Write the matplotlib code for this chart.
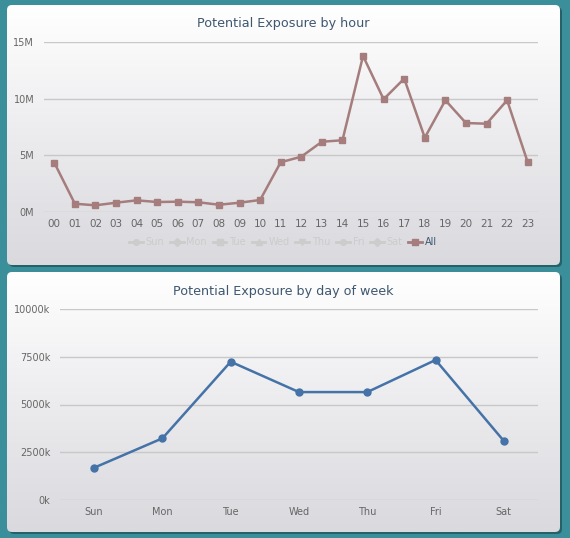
import matplotlib
matplotlib.use("Agg")
import matplotlib.pyplot as plt
import numpy as np
from matplotlib.patches import FancyBboxPatch
from matplotlib.lines import Line2D
from matplotlib.colors import LinearSegmentedColormap
from matplotlib.ticker import FuncFormatter

# ---- data ----
hours = ["00", "01", "02", "03", "04", "05", "06", "07", "08", "09", "10", "11",
         "12", "13", "14", "15", "16", "17", "18", "19", "20", "21", "22", "23"]
hour_all_m = [4.35, 0.73, 0.59, 0.82, 1.03, 0.88, 0.91, 0.86, 0.64, 0.82, 1.06, 4.39,
              4.88, 6.20, 6.33, 13.77, 9.95, 11.77, 6.56, 9.86, 7.85, 7.79, 9.86, 4.39]
hour_ticks = [0, 5, 10, 15]

days = ["Sun", "Mon", "Tue", "Wed", "Thu", "Fri", "Sat"]
day_vals_k = [1690, 3230, 7240, 5650, 5650, 7330, 3090]
day_ticks = [0, 2500, 5000, 7500, 10000]

legend_names = ["Sun", "Mon", "Tue", "Wed", "Thu", "Fri", "Sat", "All"]
legend_marks = ["o", "D", "s", "^", "v", "o", "D", "s"]

W, H = 570, 538
TEAL = "#3B8F9A"
TITLE_C = "#3E576F"
LABEL_C = "#666666"
GRID_C = "#C8C8C8"
C_ALL = "#A47D7C"
C_DAY = "#4572A7"

fig = plt.figure(figsize=(W / 100, H / 100), dpi=100, facecolor=TEAL)

# background layer in pixel coords (y measured from top)
bg = fig.add_axes([0, 0, 1, 1])
bg.set_xlim(0, W); bg.set_ylim(H, 0); bg.axis("off")
grad = LinearSegmentedColormap.from_list("g", ["#FFFFFF", "#D9D9DE"])
gimg = np.linspace(0, 1, 256).reshape(-1, 1)

def panel(x0, y0, x1, y1):
    sh = FancyBboxPatch((x0 + 2, y0 + 2), x1 - x0, y1 - y0,
                        boxstyle="round,pad=0,rounding_size=5",
                        facecolor="#1D4E55", edgecolor="none", alpha=0.7, zorder=1)
    bg.add_patch(sh)
    p = FancyBboxPatch((x0, y0), x1 - x0, y1 - y0,
                       boxstyle="round,pad=0,rounding_size=5",
                       facecolor="none", edgecolor="none", zorder=2)
    bg.add_patch(p)
    im = bg.imshow(gimg, cmap=grad, aspect="auto", extent=(x0, x1, y1, y0),
                   origin="upper", zorder=2)
    im.set_clip_path(p)

panel(7, 5, 560, 265)
panel(7, 272, 560, 532)

def plot_axes(x0, y0, x1, y1):
    a = fig.add_axes([x0 / W, 1 - y1 / H, (x1 - x0) / W, (y1 - y0) / H])
    a.set_facecolor("none")
    for s in a.spines.values():
        s.set_visible(False)
    a.tick_params(length=0, colors=LABEL_C, labelsize=7)
    a.grid(axis="y", color=GRID_C, lw=1)
    a.set_axisbelow(True)
    return a

# ---- top: by hour ----
ax1 = plot_axes(44, 42, 538, 212)
x = np.arange(len(hours))
ax1.plot(x, hour_all_m, color=C_ALL, lw=1.8, marker="s", ms=3.8, zorder=3)
ax1.set_xlim(-0.5, len(hours) - 0.5)
ax1.set_ylim(0, 15)
ax1.set_yticks(hour_ticks)
ax1.yaxis.set_major_formatter(FuncFormatter(lambda v, p: f"{v:.0f}M"))
ax1.set_xticks(x)
ax1.set_xticklabels(hours)
ax1.tick_params(axis="x", pad=5, labelsize=7.5)
ax1.tick_params(axis="y", pad=7)
fig.text(283 / W, 1 - 24 / H, "Potential Exposure by hour", ha="center", va="center",
         color=TITLE_C, fontsize=9.2)

handles = []
for i, (nm, mk) in enumerate(zip(legend_names, legend_marks)):
    c = C_ALL if nm == "All" else "#CCCCCC"
    handles.append(Line2D([0], [0], color=c, lw=2, marker=mk, ms=4))
leg = ax1.legend(handles, legend_names, ncol=8, frameon=False, loc="center",
                 bbox_to_anchor=(283 / W, 1 - 242 / H), bbox_transform=fig.transFigure,
                 fontsize=7, handlelength=1.4, handletextpad=0.3, columnspacing=0.6)
for t, nm in zip(leg.get_texts(), legend_names):
    t.set_color(TITLE_C if nm == "All" else "#CCCCCC")

# ---- bottom: by day of week ----
ax2 = plot_axes(60, 309, 538, 500)
xd = np.arange(len(days))
ax2.plot(xd, day_vals_k, color=C_DAY, lw=1.8, marker="o", ms=5, zorder=3)
ax2.set_xlim(-0.5, len(days) - 0.5)
ax2.set_ylim(0, 10000)
ax2.set_yticks(day_ticks)
ax2.yaxis.set_major_formatter(FuncFormatter(lambda v, p: f"{v:.0f}k"))
ax2.set_xticks(xd)
ax2.set_xticklabels(days)
ax2.tick_params(axis="x", pad=5)
ax2.tick_params(axis="y", pad=7)
fig.text(283 / W, 1 - 292 / H, "Potential Exposure by day of week", ha="center",
         va="center", color=TITLE_C, fontsize=9.2)

fig.savefig("out.png", dpi=100, facecolor=TEAL)
